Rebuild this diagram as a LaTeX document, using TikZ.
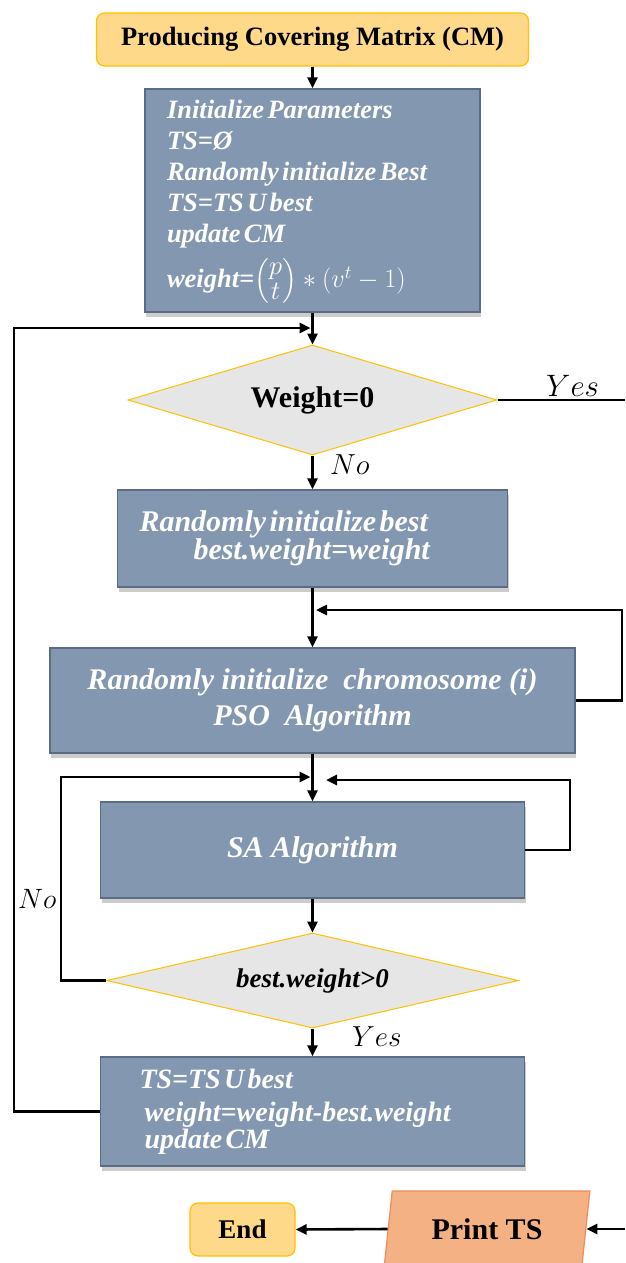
\RequirePackage{fix-cm}
\documentclass[tikz,border=0pt]{standalone}
\usepackage{fontspec}
\setmainfont{Liberation Serif}
\usepackage{amsmath}
\usetikzlibrary{arrows.meta,shapes.geometric,shadows}
\definecolor{boxblue}{HTML}{8497B0}
\definecolor{boxedge}{HTML}{5B6B82}
\definecolor{termfill}{HTML}{FFD98A}
\definecolor{goldedge}{HTML}{FFC000}
\definecolor{decfill}{HTML}{E7E6E6}
\definecolor{iofill}{HTML}{F4B183}
\definecolor{ioedge}{HTML}{F08C5A}
\newcommand{\fsz}[2]{\fontsize{#1}{#2}\selectfont}
\newcommand{\pstack}{\vcenter{\offinterlineskip\halign{\hfil$##$\hfil\cr p\cr\noalign{\kern3pt} t\cr}}}
\begin{document}
\begin{tikzpicture}[x=1pt,y=-1pt,
 procbox/.style={draw=boxedge, line width=1.5pt, fill=boxblue, text=white, font=\bfseries\itshape, inner sep=0pt,
   drop shadow={shadow xshift=1pt, shadow yshift=-5pt, opacity=0.4}},
 termbox/.style={draw=goldedge, line width=1.2pt, fill=termfill, rounded corners=8pt, inner sep=0pt},
 decbox/.style={diamond, draw=goldedge, line width=1pt, fill=decfill, inner sep=0pt},
 iobox/.style={trapezium, trapezium left angle=77.4, trapezium right angle=102.6, trapezium stretches=true,
   draw=ioedge, line width=1.2pt, fill=iofill, inner sep=0pt},
 arr/.style={-{Triangle[length=11pt,width=10pt]}, line width=2.6pt},
 conn/.style={line width=2.6pt},
 lbl/.style={anchor=base west, inner sep=0pt}]
\clip (0,0) rectangle (625,1263);
\fill[white] (0,0) rectangle (625,1263);

\node[termbox, minimum width=432pt, minimum height=53pt, font=\bfseries\fsz{26.5}{30}] (title) at (312.5,39.5) {Producing Covering Matrix (CM)};

\node[procbox, minimum width=335pt, minimum height=223pt, text width=291pt, align=left] (b1) at (312.5,200.5)
 {\fsz{26.5}{31}\rule{0pt}{23pt}Initialize Parameters\\ TS=Ø\\ Randomly initialize Best\\ TS=TS U best\\ update CM\\[8pt]
  weight=$\Bigl(\pstack\Bigr) * (v^t-1)$};

\node[decbox, aspect=3.35, minimum width=369pt, minimum height=110pt, font=\bfseries\fsz{30}{36}] (d1) at (312.5,400) {Weight=0};

\node[procbox, minimum width=390pt, minimum height=97pt, text width=346pt, align=left] (b2) at (312.5,538.5)
 {\fsz{30}{36}Randomly initialize best\\ \hspace*{54pt}best.weight=weight};

\node[procbox, minimum width=525pt, minimum height=105pt, align=center, font=\bfseries\itshape\fsz{30}{36}] (b3) at (312.5,700.5)
 {Randomly initialize\ \ chromosome (i)\\ PSO\ \ Algorithm};

\node[procbox, minimum width=424pt, minimum height=96pt, align=center, font=\bfseries\itshape\fsz{30}{36}] (b4) at (312.5,850)
 {SA Algorithm};

\node[decbox, aspect=4.34, minimum width=412pt, minimum height=95pt, font=\bfseries\itshape\fsz{27}{32}] (d2) at (312.5,980.5) {best.weight>0};

\node[procbox, minimum width=424pt, minimum height=109pt, text width=346pt, align=left] (b5) at (312.5,1111.5)
 {\fsz{28}{33.5}TS=TS U best\\ \hspace*{5pt}weight=weight-best.weight\\ \hspace*{5pt}update CM};

\node[termbox, minimum width=105pt, minimum height=53pt, font=\bfseries\fsz{27}{30}] (end) at (242.5,1229.5) {End};
\node[iobox, minimum width=206pt, minimum height=76pt, font=\bfseries\fsz{30}{34}] (pts) at (487,1229) {Print TS};

% connectors
\draw[arr] (title.south) -- (b1.north);
\draw[arr] (b1.south) -- (d1.north);
\coordinate (l1) at (14,328);
\coordinate (j1) at (312.5,328);
\draw[arr, shorten >=2pt] (b5.west) -| (l1) -- (j1);

\coordinate (ry) at (625,400);
\draw[conn] (d1.east) -- (ry);
\node[lbl] (yes1) at (546,396) {\fsz{31}{36}$Yes$};

\draw[arr] (d1.south) -- (b2.north);
\node[lbl] (no1) at (330,474) {\fsz{29}{34}$No$};

\draw[arr] (b2.south) -- (b3.north);
\coordinate (r2) at (622,610);
\coordinate (j2) at (312.5,610);
\draw[arr, shorten >=3.5pt] (b3.east) -| (r2) -- (j2);

\draw[arr] (b3.south) -- (b4.north);
\coordinate (l3) at (61,777);
\coordinate (j3) at (312.5,777);
\draw[arr, shorten >=2pt] (d2.west) -| (l3) -- (j3);
\coordinate (r4) at (570,780);
\coordinate (j4) at (312.5,780);
\draw[arr, shorten >=13.5pt] (b4.east) -| (r4) -- (j4);
\node[lbl] (no2) at (18,908) {\fsz{28}{33}$No$};

\draw[arr] (b4.south) -- (d2.north);
\draw[arr] (d2.south) -- (b5.north);
\node[lbl] (yes2) at (352,1046) {\fsz{29}{34}$Yes$};

\draw[arr] (pts.left side) -- (end.east);
\coordinate (rb) at (625,1229);
\draw[arr] (rb) -- (pts.right side);
\end{tikzpicture}
\end{document}
